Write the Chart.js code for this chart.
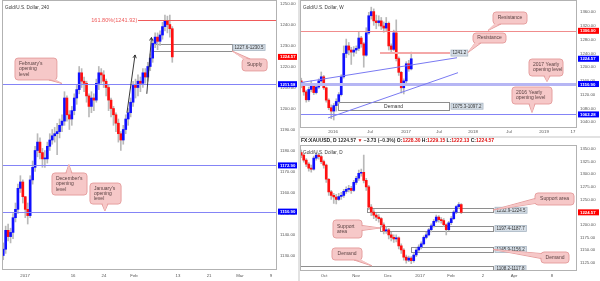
<!doctype html>
<html lang="en">
<head>
<meta charset="UTF-8">
<title>Gold / U.S. Dollar</title>
<style>
  body { margin: 0; background: #e2e2e2; width: 600px; height: 281px; position: relative; overflow: hidden; }
  canvas { position: absolute; background: #fff; }
</style>
</head>
<body>
<canvas id="c240" width="298" height="281" style="left:0;top:0"></canvas>
<canvas id="cW" width="300" height="136" style="left:300px;top:0"></canvas>
<canvas id="cD" width="300" height="143" style="left:300px;top:138px"></canvas>

<script src="https://cdn.jsdelivr.net/npm/chart.js@4.4.1/dist/chart.umd.min.js"></script>
<script>
// Data-----
// 240 (4h) chart, late Dec 2016 - 9 Feb 2017 (open of each candle = previous close)
const h4Open0 = 1130;
const h4Close = [1133,1142,1139,1141,1148,1152,1162,1165,1158,1152,
  1149,1166,1172,1180,1184,1179,1176,1176,1182,1185,
  1187,1188,1189,1192,1194,1205,1197,1195,1199,1205,
  1209,1217,1213,1212,1206,1201,1205,1204,1212,1217,
  1216,1213,1210,1204,1200,1197,1193,1188,1185,1190,
  1195,1198,1203,1211,1210,1213,1212,1217,1215,1220,
  1224,1231,1234,1232,1235,1239,1242,1240,1238,1224.57];
const h4High = [1136,1144,1145,1143,1150,1155,1164,1168,1166,1158,
  1155,1168,1175,1182,1188,1186,1181,1180,1184,1188,
  1190,1191,1193,1195,1197,1208,1206,1199,1201,1207,
  1211,1220,1219,1215,1213,1207,1208,1207,1214,1220,
  1219,1218,1214,1211,1205,1201,1198,1195,1189,1192,
  1197,1200,1205,1213,1214,1216,1215,1219,1219,1222,
  1226,1233,1236,1236,1237,1241,1244.5,1244,1244.5,1239];
const h4Low = [1128,1131,1137,1136,1138,1146,1150,1160,1155,1148,
  1145,1148,1164,1170,1177,1176,1172,1172,1174,1180,
  1183,1184,1178,1186,1189,1192,1194,1190,1192,1197,
  1202,1207,1210,1208,1203,1196,1198,1199,1203,1209,
  1212,1210,1206,1199,1196,1192,1189,1184,1180,1183,
  1188,1192,1196,1201,1205,1206,1208,1210,1212,1213,
  1218,1222,1229,1228,1230,1233,1237,1236,1234,1222];
const h4DateTicks = [9.4, 29.0, 41.6, 53.9, 71.8, 84.5, 97.1, 109.8];
const h4DateLabels = ['2017', '16', '24', 'Feb', '13', '21', 'Mar', '9'];
const h4PriceTicks = [1130, 1140, 1150, 1160, 1170, 1180, 1190, 1200, 1210, 1220, 1230, 1240, 1250];

// Weekly chart, autumn 2015 - Feb 2017
const wOpen0 = 1160;
const wClose = [1150,1128,1105,1135,1150,1126,1142,1160,1172,1140,
  1104,1082,1072,1088,1100,1120,1172,1240,1262,1250,
  1244,1250,1255,1285,1268,1235,1300,1350,1362,1335,
  1330,1335,1320,1314,1328,1262,1252,1300,1225,1185,
  1140,1160,1210,1195,1224.57];
const wHigh = [1168,1155,1133,1142,1160,1152,1150,1166,1186,1176,
  1142,1108,1090,1094,1108,1126,1178,1262,1282,1272,
  1258,1260,1262,1303,1290,1272,1315,1360,1375,1370,
  1352,1350,1345,1332,1345,1332,1268,1308,1338,1230,
  1188,1166,1216,1220,1244];
const wLow = [1140,1118,1098,1100,1128,1120,1122,1138,1156,1135,
  1098,1076,1050,1046,1072,1094,1116,1168,1228,1236,
  1208,1232,1240,1248,1258,1200,1232,1296,1340,1322,
  1312,1320,1310,1302,1306,1250,1242,1248,1218,1176,
  1125,1122,1155,1188,1192];
const wDateTicks = [13.2, 28.0, 42.4, 55.6, 69.2, 83.6, 97.6, 109.2];
const wDateLabels = ['2016', 'Jul', '2017', 'Jul', '2018', 'Jul', '2019', '17'];
const wPriceTicks = [1040, 1080, 1120, 1160, 1200, 1240, 1280, 1320, 1360];

// Daily chart, Sep 2016 - Feb 2017
const dOpen0 = 1343;
const dClose = [1338,1328,1320,1312,1310,1332,1338,1335,1325,1318,
  1290,1265,1258,1255,1250,1256,1258,1266,1270,1272,
  1268,1284,1292,1302,1304,1288,1275,1235,1225,1219,
  1215,1212,1200,1188,1190,1180,1175,1172,1174,1158,
  1150,1136,1130,1134,1129,1140,1150,1156,1162,1175,
  1180,1190,1198,1207,1215,1210,1208,1200,1190,1204,
  1212,1225,1236,1240,1224.57];
const dHigh = [1348,1340,1331,1323,1318,1336,1344,1342,1338,1328,
  1320,1292,1268,1262,1260,1262,1264,1270,1275,1278,
  1276,1288,1296,1308,1310,1338,1292,1278,1240,1230,
  1222,1220,1214,1204,1196,1193,1185,1180,1180,1176,
  1162,1153,1140,1138,1137,1143,1153,1160,1166,1178,
  1185,1193,1202,1210,1219,1218,1214,1212,1202,1207,
  1216,1228,1238,1244,1242];
const dLow = [1333,1324,1315,1306,1304,1308,1328,1330,1321,1312,
  1284,1258,1250,1242,1241,1248,1250,1254,1262,1265,
  1262,1266,1280,1288,1296,1283,1268,1230,1218,1212,
  1208,1205,1195,1182,1183,1172,1168,1165,1166,1152,
  1143,1130,1124,1127,1123,1126,1137,1147,1152,1160,
  1172,1178,1186,1195,1204,1205,1203,1196,1180,1188,
  1200,1210,1222,1232,1222];
const dDateTicks = [9.6, 22.4, 35.2, 48.0, 60.4, 73.2, 85.6, 100.8];
const dDateLabels = ['Oct', 'Nov', 'Dec', '2017', 'Feb', '2', 'Apr', '8'];
const dPriceTicks = [1125, 1150, 1175, 1200, 1225, 1250, 1275, 1300, 1325, 1350];
// Data-----

const FONT = '"Liberation Sans", Arial, sans-serif';
const UP = '#1010ff', DOWN = '#ff1010', WICK = '#b9b9b9';
const LINE_BLUE = '#8484f6', TREND_BLUE = '#7a7af2';
const CALL_FILL = '#f6c8c8', CALL_EDGE = '#e6a0a0', CALL_TEXT = '#5a4242';

function candles(open0, close, high, low) {
  const wicks = [], bodies = [], colors = [];
  let o = open0;
  close.forEach((c, i) => {
    wicks.push({x: i + 0.5, y: [low[i], high[i]]});
    bodies.push({x: i + 0.5, y: [o, c]});
    colors.push(c >= o ? UP : DOWN);
    o = c;
  });
  return {wicks, bodies, colors};
}

// Drawing tools (lines, boxes, callouts, price tags) ---
function callout(ctx, c, x, y) {
  const l = x.getPixelForValue(c.box[0]), r = x.getPixelForValue(c.box[1]);
  const t = y.getPixelForValue(c.box[2]), b = y.getPixelForValue(c.box[3]);
  const tx = x.getPixelForValue(c.tip[0]), ty = y.getPixelForValue(c.tip[1]);
  const cx = (l + r) / 2, cy = (t + b) / 2;
  let p1, p2, q1, q2;
  if (Math.abs(ty - cy) / (b - t) > Math.abs(tx - cx) / (r - l)) {
    const ey = ty > cy ? b : t, dir = ty > cy ? -1 : 1;
    const bx = Math.min(Math.max(tx, l + 5), r - 5);
    p1 = [bx - 3, ey]; p2 = [bx + 3, ey];
    q1 = [bx - 2.5, ey + dir * 1.2]; q2 = [bx + 2.5, ey + dir * 1.2];
  } else {
    const ex = tx > cx ? r : l, dir = tx > cx ? -1 : 1;
    const by = Math.min(Math.max(ty, t + 4), b - 4);
    p1 = [ex, by - 2.5]; p2 = [ex, by + 2.5];
    q1 = [ex + dir * 1.2, by - 2]; q2 = [ex + dir * 1.2, by + 2];
  }
  const tri = (a, z) => { ctx.beginPath(); ctx.moveTo(a[0], a[1]); ctx.lineTo(tx, ty); ctx.lineTo(z[0], z[1]); ctx.closePath(); };
  ctx.fillStyle = CALL_FILL; ctx.strokeStyle = CALL_EDGE; ctx.lineWidth = 1;
  tri(p1, p2); ctx.fill(); ctx.stroke();
  ctx.beginPath(); ctx.roundRect(l, t, r - l, b - t, 3); ctx.fill(); ctx.stroke();
  tri(q1, q2); ctx.fill();
  ctx.fillStyle = CALL_TEXT; ctx.font = '5px ' + FONT; ctx.textBaseline = 'middle';
  const lh = 5.2, y0 = cy - (c.lines.length - 1) * lh / 2;
  c.lines.forEach((s, i) => {
    if (c.lines.length > 1) { ctx.textAlign = 'left'; ctx.fillText(s, l + 4, y0 + i * lh); }
    else { ctx.textAlign = 'center'; ctx.fillText(s, cx, y0); }
  });
}

function rangeLabel(ctx, text, xl, yc) {
  ctx.font = '4.5px ' + FONT;
  const w = ctx.measureText(text).width + 3;
  ctx.fillStyle = '#d5dee7'; ctx.fillRect(xl, yc - 3, w, 6);
  ctx.strokeStyle = '#a9b6c3'; ctx.lineWidth = 0.8; ctx.strokeRect(xl, yc - 3, w, 6);
  ctx.fillStyle = '#333'; ctx.textAlign = 'left'; ctx.textBaseline = 'middle';
  ctx.fillText(text, xl + 1.5, yc + 0.2);
}

function drawings(d) {
  return {
    id: 'drawings',
    beforeDatasetsDraw(chart) {
      const {ctx, chartArea: a, scales: {x, y}} = chart;
      ctx.save();
      ctx.beginPath(); ctx.rect(a.left, a.top, a.width, a.height); ctx.clip();
      (d.rects || []).forEach(r => {
        const l = Math.round(x.getPixelForValue(r.x[0])), rr = Math.round(x.getPixelForValue(r.x[1]));
        const t = Math.round(y.getPixelForValue(r.v[1])), b = Math.round(y.getPixelForValue(r.v[0]));
        if (r.fill) { ctx.fillStyle = r.fill; ctx.fillRect(l, t, rr - l, b - t); }
        ctx.strokeStyle = '#8e8e8e'; ctx.lineWidth = 1;
        ctx.strokeRect(l + 0.5, t + 0.5, rr - l, b - t);
        if (r.text) {
          ctx.fillStyle = '#333'; ctx.font = '5px ' + FONT; ctx.textAlign = 'center'; ctx.textBaseline = 'middle';
          ctx.fillText(r.text, (l + rr) / 2, (t + b) / 2 + 0.5);
        }
      });
      ctx.restore();
    },
    afterDatasetsDraw(chart) {
      const {ctx, chartArea: a, scales: {x, y}} = chart;
      ctx.save();
      ctx.beginPath(); ctx.rect(a.left, a.top, a.width, a.height); ctx.clip();
      (d.hlines || []).forEach(h => {
        const py = Math.round(y.getPixelForValue(h.v)) + (h.w % 2 ? 0.5 : 0);
        const x0 = h.from !== undefined ? x.getPixelForValue(h.from) : a.left;
        const x1 = h.to !== undefined ? x.getPixelForValue(h.to) : a.right;
        ctx.strokeStyle = h.color; ctx.lineWidth = h.w;
        ctx.beginPath(); ctx.moveTo(x0, py); ctx.lineTo(x1, py); ctx.stroke();
      });
      (d.segs || []).forEach(s => {
        ctx.strokeStyle = s.color; ctx.lineWidth = 1;
        ctx.beginPath();
        ctx.moveTo(x.getPixelForValue(s.p[0]), y.getPixelForValue(s.p[1]));
        ctx.lineTo(x.getPixelForValue(s.q[0]), y.getPixelForValue(s.q[1]));
        ctx.stroke();
      });
      (d.arrows || []).forEach(s => {
        const x0 = x.getPixelForValue(s.p[0]), y0 = y.getPixelForValue(s.p[1]);
        const x1 = x.getPixelForValue(s.q[0]), y1 = y.getPixelForValue(s.q[1]);
        const ang = Math.atan2(y1 - y0, x1 - x0);
        ctx.strokeStyle = '#222'; ctx.lineWidth = 0.9;
        ctx.beginPath(); ctx.moveTo(x0, y0); ctx.lineTo(x1, y1);
        ctx.moveTo(x1 - 3.5 * Math.cos(ang - 0.5), y1 - 3.5 * Math.sin(ang - 0.5));
        ctx.lineTo(x1, y1);
        ctx.lineTo(x1 - 3.5 * Math.cos(ang + 0.5), y1 - 3.5 * Math.sin(ang + 0.5));
        ctx.stroke();
      });
      (d.texts || []).forEach(t => {
        ctx.fillStyle = t.color; ctx.font = '5.6px ' + FONT; ctx.textAlign = 'right'; ctx.textBaseline = 'middle';
        ctx.fillText(t.text, x.getPixelForValue(t.x), y.getPixelForValue(t.v));
      });
      (d.labels || []).forEach(t => rangeLabel(ctx, t.text, x.getPixelForValue(t.x), y.getPixelForValue(t.v)));
      (d.callouts || []).forEach(c => callout(ctx, c, x, y));
      ctx.restore();
    },
    afterDraw(chart) {
      const {ctx, chartArea: a, scales: {y}, width} = chart;
      ctx.save();
      ctx.strokeStyle = '#b2b2b2'; ctx.lineWidth = 1;
      ctx.strokeRect(Math.round(a.left) + 0.5, Math.round(a.top) + 0.5, Math.round(a.width) - 1, Math.round(a.height) - 1);
      (d.tags || []).forEach(t => {
        const py = y.getPixelForValue(t.v);
        ctx.fillStyle = t.color; ctx.fillRect(a.right + 1, py - 3, width - a.right - 2, 6);
        ctx.fillStyle = '#fff'; ctx.font = 'bold 4.3px ' + FONT; ctx.textAlign = 'left'; ctx.textBaseline = 'middle';
        ctx.fillText(t.v.toFixed(2), a.right + 3, py + 0.3);
      });
      ctx.fillStyle = '#3a3a3a'; ctx.font = '4.7px ' + FONT; ctx.textAlign = 'left'; ctx.textBaseline = 'middle';
      ctx.fillText(d.title, a.left + 3, a.top + 8);
      if (d.header) {
        let hx = 1;
        ctx.font = 'bold 5px ' + FONT;
        d.header.forEach(([s, c]) => { ctx.fillStyle = c; ctx.fillText(s, hx, 2.8); hx += ctx.measureText(s).width; });
      }
      ctx.restore();
    }
  };
}

function makeChart(id, cfg) {
  const cd = candles(cfg.open0, cfg.close, cfg.high, cfg.low);
  const tickFont = {size: 4.3, family: FONT};
  return new Chart(document.getElementById(id), {
    type: 'bar',
    data: {
      datasets: [
        {data: cd.bodies, backgroundColor: cd.colors, barThickness: 2, minBarLength: 1, grouped: false, order: 0},
        {data: cd.wicks, backgroundColor: WICK, barThickness: 1, grouped: false, order: 1}
      ]
    },
    options: {
      responsive: false,
      animation: false,
      devicePixelRatio: 1,
      layout: {padding: cfg.pad},
      plugins: {legend: {display: false}, tooltip: {enabled: false}},
      scales: {
        x: {
          type: 'linear', min: 0, max: cfg.xMax, offset: false,
          grid: {display: false, drawTicks: false}, border: {display: false},
          afterBuildTicks: s => { s.ticks = cfg.xTicks.map(v => ({value: v})); },
          afterFit: s => { s.height = cfg.xH; s.paddingLeft = 0; s.paddingRight = 0; },
          ticks: {autoSkip: false, maxRotation: 0, padding: cfg.xPad, font: tickFont, color: '#555',
                  callback: (v, i) => cfg.xLabels[i]}
        },
        y: {
          position: 'right', min: cfg.yMin, max: cfg.yMax,
          grid: {display: false, drawTicks: false}, border: {display: false},
          afterBuildTicks: s => { s.ticks = cfg.yTicks.map(v => ({value: v})); },
          afterFit: s => { s.width = cfg.yW; s.paddingTop = 0; s.paddingBottom = 0; },
          ticks: {padding: 3, font: tickFont, color: '#555', callback: v => Number(v).toFixed(2)}
        }
      }
    },
    plugins: [drawings(cfg.draw)]
  });
}

// Config-----
makeChart('c240', {
  open0: h4Open0, close: h4Close, high: h4High, low: h4Low,
  xMax: 112.24, xTicks: h4DateTicks, xLabels: h4DateLabels, xH: 11, xPad: 3,
  yMin: 1123.1, yMax: 1251.67, yTicks: h4PriceTicks, yW: 21,
  pad: {left: 2, top: 0, right: 0, bottom: 0},
  draw: {
    title: 'Gold/U.S. Dollar, 240',
    rects: [{x: [61.6, 93.9], v: [1227.6, 1230.5]}],
    hlines: [
      {v: 1241.92, from: 55.5, color: '#f05a5a', w: 1},
      {v: 1211.58, color: LINE_BLUE, w: 1},
      {v: 1172.90, color: LINE_BLUE, w: 1},
      {v: 1150.90, color: LINE_BLUE, w: 1}
    ],
    texts: [{text: '161.80%(1241.92)', x: 55.2, v: 1241.92, color: '#ee5a5a'}],
    arrows: [
      {p: [51.0, 1198], q: [54.3, 1225.5]},
      {p: [59.1, 1207], q: [61.0, 1233.8]}
    ],
    labels: [{text: '1227.6-1230.5', x: 94.3, v: 1229.05}],
    callouts: [
      {lines: ["February's", 'opening', 'level'], box: [5.3, 22.4, 1224.0, 1213.6], tip: [24.5, 1211.9]},
      {lines: ["December's", 'opening', 'level'], box: [20.4, 34.7, 1169.3, 1158.8], tip: [27.3, 1173.3]},
      {lines: ["January's", 'opening', 'level'], box: [35.9, 48.6, 1164.5, 1154.5], tip: [42.0, 1151.2]},
      {lines: ['Supply'], box: [98.0, 108.2, 1223.6, 1217.9], tip: [93.9, 1227.4]}
    ],
    tags: [
      {v: 1224.57, color: '#ff0000'},
      {v: 1211.58, color: '#0000ff'},
      {v: 1172.90, color: '#0000ff'},
      {v: 1150.90, color: '#0000ff'}
    ]
  }
});

makeChart('cW', {
  open0: wOpen0, close: wClose, high: wHigh, low: wLow,
  xMax: 110.8, xTicks: wDateTicks, xLabels: wDateLabels, xH: 8, xPad: 1,
  yMin: 1022.7, yMax: 1395.9, yTicks: wPriceTicks, yW: 23,
  pad: {left: 0, top: 0, right: 0, bottom: 0},
  draw: {
    title: 'Gold/U.S. Dollar, W',
    rects: [{x: [15.2, 59.6], v: [1075.3, 1097.2], fill: 'rgba(255,255,255,0.9)', text: 'Demand'}],
    hlines: [
      {v: 1306, color: '#f08c8c', w: 1},
      {v: 1241.2, from: 32, to: 60, color: '#f4a8a8', w: 2},
      {v: 1150.9, color: '#b6b6f4', w: 3},
      {v: 1062.28, color: LINE_BLUE, w: 1}
    ],
    segs: [
      {p: [0, 1154.8], q: [62.8, 1227.6], color: TREND_BLUE},
      {p: [11.2, 1052], q: [63.2, 1184], color: TREND_BLUE}
    ],
    labels: [
      {text: '1241.2', x: 60.4, v: 1241.2},
      {text: '1075.3-1097.2', x: 60.4, v: 1086.25}
    ],
    callouts: [
      {lines: ['Resistance'], box: [77.2, 90.8, 1360.9, 1325.9], tip: [75.2, 1306.9]},
      {lines: ['Resistance'], box: [69.2, 82.4, 1299.6, 1270.5], tip: [67.2, 1242.8]},
      {lines: ['2017 Yearly', 'opening level'], box: [91.6, 105.2, 1223.8, 1174.3], tip: [98.8, 1158]},
      {lines: ['2016 Yearly', 'opening level'], box: [84.8, 100.8, 1142.2, 1092.7], tip: [92.8, 1067.9]}
    ],
    tags: [
      {v: 1306.00, color: '#ff0000'},
      {v: 1224.57, color: '#0000ff'},
      {v: 1150.90, color: '#0000ff'},
      {v: 1062.28, color: '#0000ff'}
    ]
  }
});

makeChart('cD', {
  open0: dOpen0, close: dClose, high: dHigh, low: dLow,
  xMax: 110.8, xTicks: dDateTicks, xLabels: dDateLabels, xH: 10.3, xPad: 3,
  yMin: 1109.0, yMax: 1357.9, yTicks: dPriceTicks, yW: 23,
  pad: {left: 0, top: 7, right: 0, bottom: 0},
  draw: {
    title: 'Gold/U.S. Dollar, D',
    header: [['FX:XAUUSD, D ', '#222'], ['1224.57 ', '#333'], ['\u25BC ', '#e01515'], ['\u22123.73 (\u22120.3%) ', '#333'],
             ['O:', '#222'], ['1228.30 ', '#e01515'], ['H:', '#222'], ['1229.15 ', '#e01515'],
             ['L:', '#222'], ['1222.13 ', '#e01515'], ['C:', '#222'], ['1224.57', '#e01515']],
    rects: [
      {x: [26.8, 77.2], v: [1224.5, 1232.9]},
      {x: [32.0, 77.2], v: [1187.7, 1197.4]},
      {x: [44.4, 77.2], v: [1145.9, 1156.2]},
      {x: [0, 77.2], v: [1108.2, 1117.8]}
    ],
    labels: [
      {text: '1232.9-1224.5', x: 78, v: 1228.7},
      {text: '1197.4-1187.7', x: 78, v: 1192.55},
      {text: '1145.9-1156.2', x: 78, v: 1151.05},
      {text: '1108.2-1117.8', x: 78, v: 1113.0}
    ],
    callouts: [
      {lines: ['Support area'], box: [94.0, 109.6, 1262.9, 1239.1], tip: [77.2, 1229.2]},
      {lines: ['Support', 'area'], box: [13.2, 24.8, 1209.4, 1173.8], tip: [32.0, 1193.6]},
      {lines: ['Demand'], box: [12.8, 24.8, 1154.0, 1130.2], tip: [28.8, 1118.5]},
      {lines: ['Demand'], box: [96.4, 107.6, 1146.0, 1124.3], tip: [77.2, 1151.0]}
    ],
    tags: [{v: 1224.57, color: '#ff0000'}]
  }
});
// Config-----
</script>
</body>
</html>
